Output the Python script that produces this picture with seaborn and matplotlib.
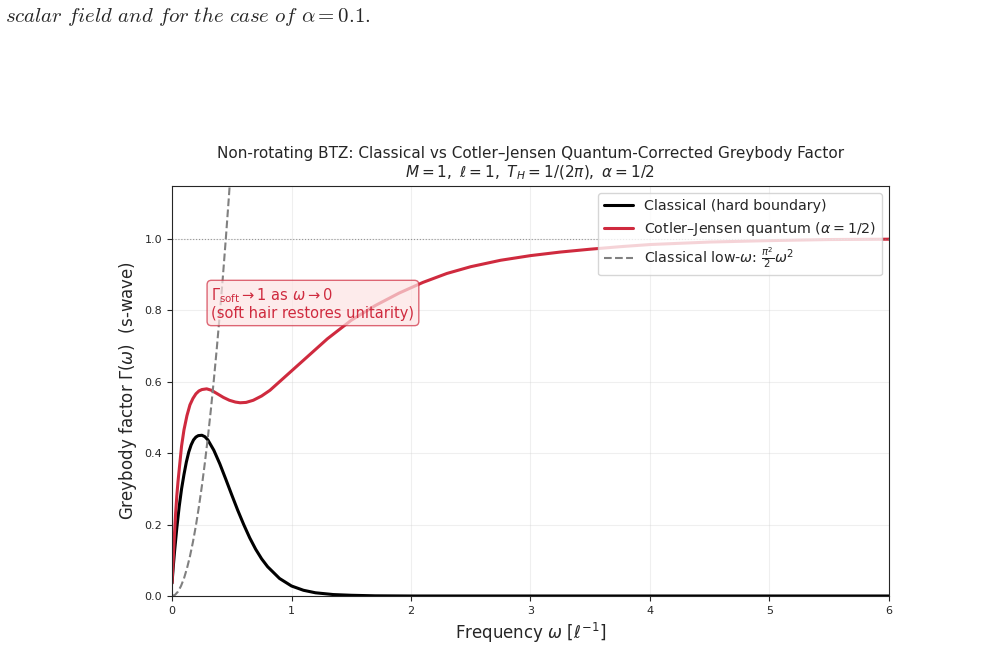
import numpy as np
import pandas as pd
import matplotlib
matplotlib.use("Agg")
import matplotlib.pyplot as plt
import seaborn as sns

# 经典（硬边界）灰体因子，读图估计
omega_classical = [0.0, 0.01, 0.02, 0.03, 0.04, 0.06, 0.08, 0.1, 0.12, 0.14, 0.16, 0.18,
                   0.2, 0.22, 0.25, 0.275, 0.3, 0.35, 0.4, 0.45, 0.5, 0.55, 0.6, 0.65,
                   0.7, 0.75, 0.8, 0.9, 1.0, 1.1, 1.2, 1.35, 1.5, 1.7, 2.0, 3.0, 4.0, 5.0, 6.0]
gamma_classical = [0.036, 0.08, 0.12, 0.155, 0.19, 0.25, 0.30, 0.34, 0.375, 0.403, 0.423, 0.437,
                   0.445, 0.449, 0.45, 0.446, 0.437, 0.408, 0.370, 0.327, 0.283, 0.240, 0.200, 0.163,
                   0.131, 0.104, 0.082, 0.049, 0.028, 0.016, 0.009, 0.004, 0.002, 0.0005, 0.0, 0.0, 0.0, 0.0, 0.0]

# Cotler-Jensen 量子修正
omega_cj = [0.0, 0.005, 0.01, 0.02, 0.03, 0.04, 0.05, 0.065, 0.08, 0.1, 0.125, 0.15,
            0.175, 0.2, 0.225, 0.25, 0.29, 0.33, 0.38, 0.43, 0.48, 0.53, 0.57, 0.62,
            0.68, 0.75, 0.82, 0.9, 1.0, 1.1, 1.3, 1.5, 1.7, 1.9, 2.1, 2.3, 2.5, 2.75,
            3.0, 3.25, 3.5, 3.75, 4.0, 4.5, 5.0, 5.5, 6.0]
gamma_cj = [0.036, 0.07, 0.10, 0.17, 0.23, 0.28, 0.32, 0.37, 0.42, 0.465, 0.505, 0.535,
            0.553, 0.566, 0.574, 0.578, 0.58, 0.576, 0.566, 0.556, 0.548, 0.543, 0.541, 0.542,
            0.548, 0.56, 0.576, 0.60, 0.63, 0.66, 0.72, 0.772, 0.813, 0.848, 0.878, 0.903, 0.922, 0.94,
            0.953, 0.963, 0.971, 0.978, 0.984, 0.991, 0.995, 0.998, 0.999]

# 低频近似 (pi^2/2) w^2
omega_low = [0.0, 0.025, 0.05, 0.075, 0.1, 0.125, 0.15, 0.175, 0.2, 0.225, 0.25, 0.275,
             0.3, 0.325, 0.35, 0.375, 0.4, 0.425, 0.45, 0.475, 0.5]
gamma_low = [0.0, 0.0031, 0.0123, 0.0278, 0.049, 0.0771, 0.111, 0.151, 0.197, 0.250, 0.308, 0.373,
             0.444, 0.521, 0.605, 0.694, 0.790, 0.891, 0.999, 1.113, 1.234]

RED = '#cf2a3e'

sns.set_style("ticks")

fig = plt.figure(figsize=(10.03, 6.68), dpi=100)
ax = fig.add_axes([0.1715, 0.1078, 0.7148, 0.6138])

sns.lineplot(x=omega_classical, y=gamma_classical, ax=ax, color='black', lw=2.2,
             sort=False, estimator=None, label='Classical (hard boundary)')
sns.lineplot(x=omega_cj, y=gamma_cj, ax=ax, color=RED, lw=2.2,
             sort=False, estimator=None, label=r'Cotler–Jensen quantum ($\alpha=1/2$)')
sns.lineplot(x=omega_low, y=gamma_low, ax=ax, color='gray', lw=1.5, linestyle='--',
             sort=False, estimator=None, label=r'Classical low-$\omega$: $\frac{\pi^2}{2}\omega^2$')

ax.axhline(1.0, color='gray', lw=0.8, ls=':', alpha=0.8)

ax.set_xlim(0, 6)
ax.set_ylim(0, 1.148)
ax.set_xticks([0, 1, 2, 3, 4, 5, 6])
ax.set_yticks([0.0, 0.2, 0.4, 0.6, 0.8, 1.0])
ax.tick_params(labelsize=8, length=3.5)
ax.grid(True, alpha=0.3)

ax.set_xlabel(r'Frequency $\omega$ [$\ell^{-1}$]', fontsize=12)
ax.set_ylabel(r'Greybody factor $\Gamma(\omega)$  (s-wave)', fontsize=12)
ax.set_title('Non-rotating BTZ: Classical vs Cotler–Jensen Quantum-Corrected Greybody Factor\n'
             r'$M=1,\ \ell=1,\ T_H=1/(2\pi),\ \alpha=1/2$', fontsize=11)

ax.text(0.33, 0.818, r'$\Gamma_{\rm soft}\to 1$ as $\omega\to 0$' + '\n(soft hair restores unitarity)',
        color=RED, fontsize=10.5, va='center', ha='left', linespacing=1.1,
        bbox=dict(boxstyle='round,pad=0.3', facecolor='#fde3e3', edgecolor=RED, alpha=0.7))

ax.legend(loc='upper right', fontsize=10.3)

fig.text(0.005, 0.967, r'$\mathit{scalar\ field\ and\ for\ the\ case\ of\ }\alpha = 0.1.$',
         math_fontfamily='cm', fontsize=15, va='baseline', ha='left')

fig.savefig('out.png', dpi=100)
